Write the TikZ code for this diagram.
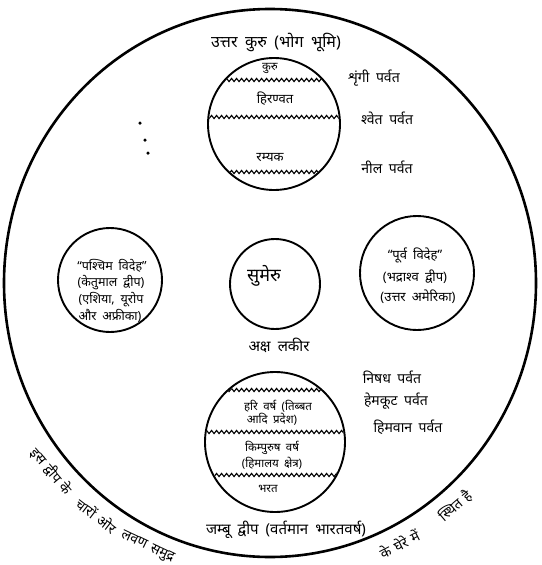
\documentclass[tikz,border=0pt]{standalone}
\usepackage{fontspec}
\setmainfont[Script=Devanagari, WordSpace=1.8]{Noto Sans}
\newfontfamily\arcfont[Script=Devanagari, WordSpace=1.3]{Noto Sans}
\usetikzlibrary{decorations.pathmorphing}
\newcommand{\arcword}[3]{\node[arcw, rotate=#2+90] (#1) at ({270+285*cos(#2)},{283-293*sin(#2)}) {#3};}
\begin{document}
\begin{tikzpicture}[x=1pt,y=-1pt,
  ring/.style={circle, draw, line width=1.9pt, inner sep=0pt},
  lab/.style={font=\fontsize{14}{16}\selectfont, inner sep=0pt},
  intext/.style={font=\fontsize{13}{15}\selectfont, inner sep=0pt},
  wtext/.style={font=\fontsize{12.5}{14}\selectfont, inner sep=0pt},
  smtext/.style={font=\fontsize{11.5}{13}\selectfont, inner sep=0pt},
  wavy/.style={decorate, decoration={snake, amplitude=1.6pt, segment length=5pt}, line width=1.1pt},
  arcw/.style={font=\arcfont\fontsize{14}{16}\selectfont, inner sep=0pt},
  speck/.style={circle, fill, inner sep=0pt, minimum size=3.5pt}]
\useasboundingbox (0,0) rectangle (541,565);
\fill[white] (0,0) rectangle (541,565);
% outer boundary
\draw[line width=2.6pt] (270,283) ellipse [x radius=266, y radius=274];
% circles
\node[ring, minimum size=132pt] (north) at (274,124) {};
\node[ring, minimum size=104pt] (west) at (110,280) {};
\node[ring, minimum size=114pt] (east) at (417,273) {};
\node[ring, minimum size=90pt] (meru) at (275,284) {};
\node[ring, minimum size=140pt] (south) at (275,442) {};
% mountain ranges
\begin{scope}
  \clip (274,124) circle (65);
  \draw[wavy] (200,80) -- (350,80);
  \draw[wavy] (200,117) -- (350,117);
  \draw[wavy] (200,172) -- (350,172);
\end{scope}
\begin{scope}
  \clip (275,442) circle (69);
  \draw[wavy] (200,390) -- (350,390);
  \draw[wavy] (200,432) -- (350,432);
  \draw[wavy] (200,475) -- (350,475);
\end{scope}
% specks
\node[speck] (s1) at (140,123) {};
\node[speck] (s2) at (145,140) {};
\node[speck] (s3) at (148,153) {};
% top label
\node[font=\fontsize{16}{18}\selectfont, inner sep=0pt] (ttl) at (276,43) {उत्तर कुरु (भोग भूमि)};
% north circle
\node[smtext] (n1) at (270,68) {कुरु};
\node[intext] (n2) at (275,99) {हिरण्वत};
\node[intext] (n3) at (270,158) {रम्यक};
\node[lab] (m1) at (374,78) {शृंगी पर्वत};
\node[lab] (m2) at (387,118) {श्वेत पर्वत};
\node[lab] (m3) at (387,167) {नील पर्वत};
% west circle
\node[wtext] (w1) at (112,266) {“पश्चिम विदेह”};
\node[wtext] (w2) at (111,283) {(केतुमाल द्वीप)};
\node[wtext] (w3) at (111,300) {(एशिया, यूरोप};
\node[wtext] (w4) at (110,316) {और अफ्रीका)};
% east circle
\node[intext] (e1) at (415,255) {“पूर्व विदेह”};
\node[intext] (e2) at (415,277) {(भद्राश्व द्वीप)};
\node[intext] (e3) at (418,297) {(उत्तर अमेरिका)};
% meru
\node[font=\fontsize{18}{20}\selectfont, inner sep=0pt] (mt) at (264,276) {सुमेरु};
\node[font=\fontsize{15}{17}\selectfont, inner sep=0pt] (mb) at (279,345) {अक्ष लकीर};
% south circle
\node[smtext] (t1) at (278,406) {हरि वर्ष (तिब्बत};
\node[smtext] (t2) at (272,419) {आदि प्रदेश)};
\node[smtext] (t3) at (272,448) {किम्पुरुष वर्ष};
\node[smtext] (t4) at (272,463) {(हिमालय क्षेत्र)};
\node[smtext] (t5) at (268,489) {भरत};
\node[lab] (p1) at (392,377) {निषध पर्वत};
\node[lab] (p2) at (396,401) {हेमकूट पर्वत};
\node[lab] (p3) at (408,427) {हिमवान पर्वत};
% bottom label
\node[font=\fontsize{15}{17}\selectfont, inner sep=0pt] (btl) at (286,530) {जम्बू द्वीप (वर्तमान भारतवर्ष)};
% text along the boundary
\arcword{a1}{220}{इस द्वीप के}
\arcword{a2}{232.5}{चारों ओर}
\arcword{a3}{244.5}{लवण समुद्र}
\arcword{b1}{297}{के घेरे में}
\arcword{b2}{310.5}{स्थित है}
\end{tikzpicture}
\end{document}
